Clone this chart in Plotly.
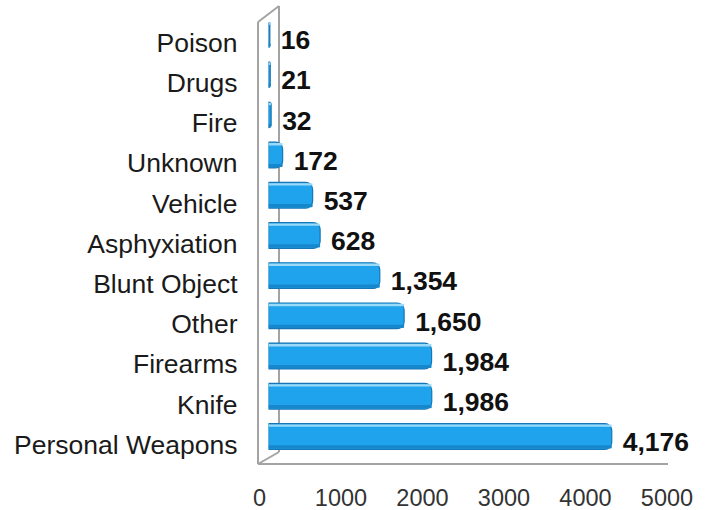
import plotly.graph_objects as go

# ---- data ----
categories = ["Personal Weapons", "Knife", "Firearms", "Other", "Blunt Object",
              "Asphyxiation", "Vehicle", "Unknown", "Fire", "Drugs", "Poison"]
values = [4176, 1986, 1984, 1650, 1354, 628, 537, 172, 32, 21, 16]
x_ticks = [0, 1000, 2000, 3000, 4000, 5000]

W, H = 707, 510
def px(x):
    return x / W
def py(y):
    return 1 - y / H

FONT = "Liberation Sans, Arial, sans-serif"
labels = [f"{v:,}" for v in values]

fig = go.Figure()

# invisible helper so the main (tick-label) axis pair is drawn
fig.add_trace(go.Scatter(
    x=x_ticks, y=[categories[0]] * len(x_ticks), xaxis="x", yaxis="y",
    mode="markers", marker=dict(opacity=0, size=1),
    hoverinfo="skip", showlegend=False,
))

# main bars (cylinder look: body + bottom shade + top highlight)
fig.add_trace(go.Bar(
    x=values, y=categories, orientation="h", xaxis="x2", yaxis="y",
    width=0.64, offset=-0.12,
    marker=dict(color="#1ea3ec", line=dict(color="#1676b6", width=1.2), cornerradius=7),
    hoverinfo="skip", showlegend=False,
))
fig.add_trace(go.Bar(
    x=values, y=categories, orientation="h", xaxis="x2", yaxis="y",
    width=0.08, offset=-0.10,
    marker=dict(color="#1787cc", line=dict(width=0), cornerradius=4),
    hoverinfo="skip", showlegend=False,
))
fig.add_trace(go.Bar(
    x=values, y=categories, orientation="h", xaxis="x2", yaxis="y",
    width=0.06, offset=0.44,
    marker=dict(color="#9adaf8", line=dict(width=0), cornerradius=3),
    hoverinfo="skip", showlegend=False,
))

# value labels
fig.add_trace(go.Scatter(
    x=values, y=categories, xaxis="x3", yaxis="y", mode="text",
    text=labels, textposition="middle right",
    textfont=dict(family=FONT, size=26.5, color="#111111", weight="bold"),
    hoverinfo="skip", showlegend=False, cliponaxis=False,
))

# 3D wall / floor outline
line_style = dict(color="#a3a3a3", width=2)
segments = [((258, 22), (258, 464)), ((258, 22), (279, 6)), ((279, 6), (279, 452)),
            ((258, 464), (279, 452)), ((258, 464), (668, 464))]
shapes = [dict(type="line", xref="paper", yref="paper",
               x0=px(a[0]), y0=py(a[1]), x1=px(b[0]), y1=py(b[1]),
               line=line_style, layer="below") for a, b in segments]

bar_x0 = 268.5
scale = 411.0
fig.update_layout(
    width=W, height=H,
    margin=dict(l=0, r=0, t=0, b=0),
    paper_bgcolor="white", plot_bgcolor="rgba(0,0,0,0)",
    barmode="overlay",
    shapes=shapes,
    xaxis=dict(domain=[px(259.5), px(667)], range=[0, 5000], tickvals=x_ticks,
               showgrid=False, zeroline=False, showline=False, ticks="",
               ticklabelstandoff=17, automargin=False,
               tickfont=dict(family=FONT, size=23.5, color="#333333"), fixedrange=True),
    xaxis2=dict(domain=[px(bar_x0), px(bar_x0 + scale)], range=[0, 5000],
                anchor="y", visible=False, fixedrange=True),
    xaxis3=dict(domain=[px(bar_x0 + 11), px(bar_x0 + 11 + scale)], range=[0, 5000],
                anchor="y", visible=False, fixedrange=True),
    yaxis=dict(domain=[py(464.6), py(22.4)], range=[-0.5, 10.5],
               categoryorder="array", categoryarray=categories,
               showgrid=False, zeroline=False, showline=False, ticks="",
               ticklabelstandoff=21, automargin=False,
               tickfont=dict(family=FONT, size=26.5, color="#1a1a1a"), fixedrange=True),
)

fig.write_html("out.html", config={"displayModeBar": False},
               post_script="document.body.style.margin='0';document.body.style.overflow='hidden';")
